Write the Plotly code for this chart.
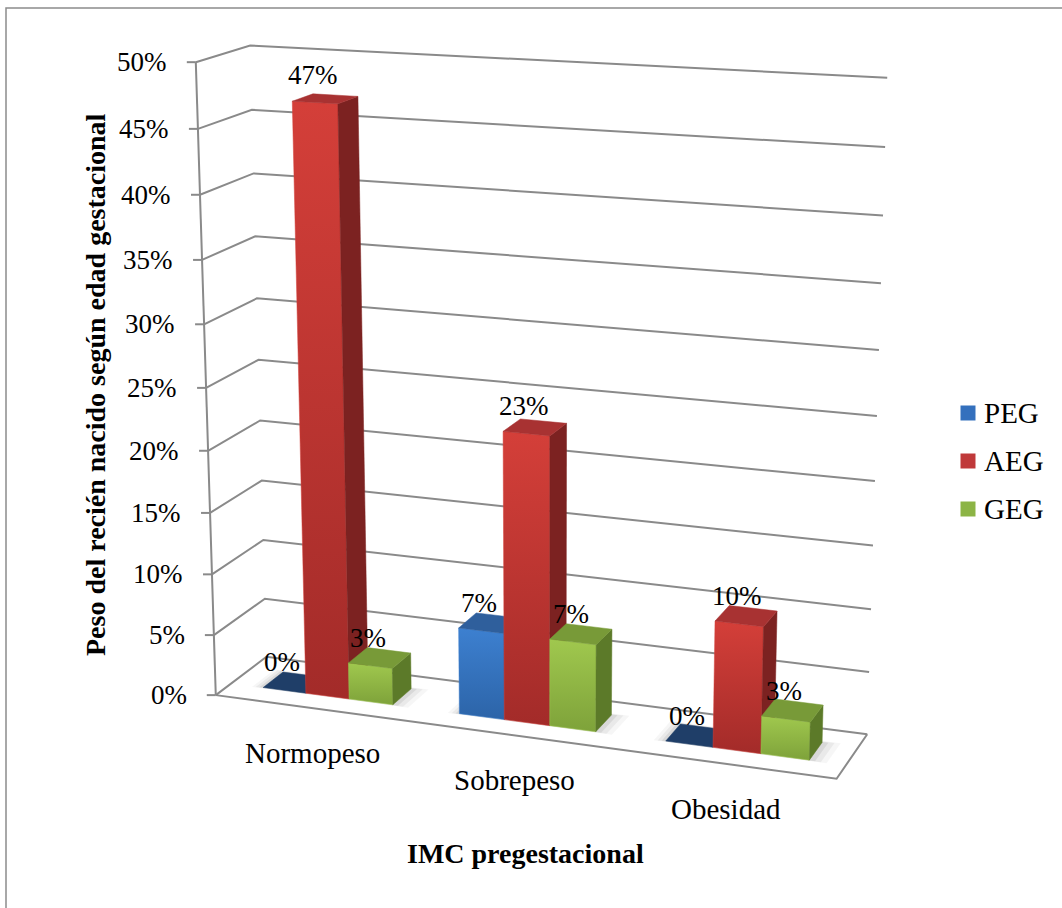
import numpy as np
import plotly.graph_objects as go

# ---- data -----------------------------------------------------------------
categories = ["Normopeso", "Sobrepeso", "Obesidad"]
series_names = ["PEG", "AEG", "GEG"]
peg = [0.00, 0.07, 0.00]
aeg = [0.47, 0.23, 0.10]
geg = [0.03, 0.07, 0.03]
y_ticks = [0.00, 0.05, 0.10, 0.15, 0.20, 0.25, 0.30, 0.35, 0.40, 0.45, 0.50]
y_tick_labels = ["0%", "5%", "10%", "15%", "20%", "25%", "30%", "35%", "40%", "45%", "50%"]
x_title = "IMC pregestacional"
y_title = "Peso del recién nacido según edad gestacional"

# ---- page / style ----------------------------------------------------------
W, H = 1062, 908
V_MAX = 0.50
FONT = "Times New Roman, Liberation Serif, serif"
GRID = "#8a8a8a"

# face colours per series: (front top, front bottom, side, top, flat top)
PALETTE = {
    "PEG": ("#3d80d0", "#2c64a8", "#24508a", "#2f5f9c", "#1f3e68"),
    "AEG": ("#d43f39", "#a32b29", "#7c2221", "#a83232", "#7c2221"),
    "GEG": ("#a0c84e", "#7ea23a", "#5c7a29", "#789a38", "#5c7a29"),
}
LEGEND_SWATCH = {"PEG": "#3470bd", "AEG": "#c0393a", "GEG": "#8cb445"}

# ---- perspective camera ----------------------------------------------------
# plot box: X 0..1 across the categories, value 0..V_MAX, Z 0 (front) .. 1 (back)
box_anchors = [
    ((0, 0.00, 0), (215, 695)), ((0, 0.05, 0), (214, 635)), ((0, 0.10, 0), (213, 575)),
    ((0, 0.35, 0), (201, 260)), ((0, 0.40, 0), (199, 195)), ((0, 0.45, 0), (198, 129)),
    ((0, 0.50, 0), (197, 62)),
    ((0, 0.50, 1), (250, 45)), ((0, 0.45, 1), (252, 110)), ((0, 0.40, 1), (254, 173)),
    ((0, 0.35, 1), (255, 237)), ((0, 0.05, 1), (265, 598)),
    ((1, 0.50, 1), (887, 78)), ((1, 0.45, 1), (885, 147)), ((1, 0.40, 1), (883, 215)),
    ((1, 0.35, 1), (881, 283)), ((1, 0.30, 1), (879, 350)), ((1, 0.25, 1), (877, 416)),
    ((1, 0.20, 1), (875, 481)), ((1, 0.15, 1), (873, 546)), ((1, 0.10, 1), (871, 609)),
    ((1, 0.05, 1), (869, 672)), ((1, 0.00, 1), (867, 735)),
    ((1, 0.00, 0), (837, 778)),
]


def fit_camera(anchors):
    world = np.array([[a[0][0], a[0][1] / V_MAX, a[0][2], 1.0] for a in anchors])
    pix = np.array([a[1] for a in anchors], float)
    mu = pix.mean(axis=0)
    sc = pix.std()
    q = (pix - mu) / sc
    rows = []
    for wv, (u, v) in zip(world, q):
        rows.append(np.concatenate([wv, np.zeros(4), -u * wv]))
        rows.append(np.concatenate([np.zeros(4), wv, -v * wv]))
    _, _, vt = np.linalg.svd(np.array(rows))
    return vt[-1].reshape(3, 4), mu, sc


CAM, CAM_MU, CAM_SC = fit_camera(box_anchors)


def proj(X, val, Z):
    h = CAM @ np.array([X, val / V_MAX, Z, 1.0])
    return CAM_MU + CAM_SC * h[:2] / h[2]


fig = go.Figure()


def polyline(points, color=GRID, width=2):
    pts = np.array([proj(*p) for p in points])
    fig.add_trace(go.Scatter(x=pts[:, 0], y=pts[:, 1], mode="lines",
                             line=dict(color=color, width=width),
                             hoverinfo="skip", showlegend=False))


def face(points, color, grad=None, line=True):
    pts = np.array([proj(*p) for p in points])
    xs = list(pts[:, 0]) + [pts[0, 0]]
    ys = list(pts[:, 1]) + [pts[0, 1]]
    kw = dict(fillcolor=color)
    if grad is not None:
        kw["fillgradient"] = dict(type="vertical",
                                  colorscale=[[0, grad[1]], [1, grad[0]]])
    fig.add_trace(go.Scatter(x=xs, y=ys, mode="lines", fill="toself",
                             line=dict(width=0.5 if line else 0, color=color),
                             hoverinfo="skip", showlegend=False, **kw))


# ---- walls: gridlines on side and back wall, floor outline -----------------
for t in y_ticks:
    polyline([(0, t, 0), (0, t, 1), (1, t, 1)])
polyline([(0, 0, 0), (0, V_MAX, 0)])
polyline([(0, 0, 0), (1, 0, 0), (1, 0, 1)])
for t in y_ticks:
    a = proj(0, t, 0)
    fig.add_trace(go.Scatter(x=[a[0] - 9, a[0]], y=[a[1], a[1]], mode="lines",
                             line=dict(color=GRID, width=2),
                             hoverinfo="skip", showlegend=False))

# ---- bars ------------------------------------------------------------------
values = {"PEG": peg, "AEG": aeg, "GEG": geg}
n_cat = len(categories)
n_ser = len(series_names)
cat_w = 1.0 / n_cat
gap_width = 1.5
bar_w = cat_w / (n_ser + gap_width)
Z0, Z1 = 0.30, 0.70

# soft contact shadows on the floor around each cluster
for i in range(n_cat):
    xc = (i + 0.5) * cat_w
    cx0 = xc - n_ser * bar_w / 2
    cx1 = xc + n_ser * bar_w / 2
    for k, op in enumerate([0.035, 0.05, 0.07]):
        e = 0.006 * (3 - k)
        face([(cx0 - e, 0, Z0 - e), (cx1 + 1.5 * e, 0, Z0 - e),
              (cx1 + 1.5 * e, 0, Z1 + 2 * e), (cx0 - e, 0, Z1 + 2 * e)],
             f"rgba(0,0,0,{op})", line=False)

label_ann = []
for i, cat in enumerate(categories):
    xc = (i + 0.5) * cat_w
    start = xc - n_ser * bar_w / 2
    for j, s in enumerate(series_names):
        v = values[s][i]
        x0, x1 = start + j * bar_w, start + (j + 1) * bar_w
        c_top, c_bot, c_side, c_cap, c_flat = PALETTE[s]
        if v > 0:
            face([(x0, 0, Z0), (x1, 0, Z0), (x1, v, Z0), (x0, v, Z0)], c_top, (c_top, c_bot))
            face([(x1, 0, Z0), (x1, 0, Z1), (x1, v, Z1), (x1, v, Z0)], c_side)
            face([(x0, v, Z0), (x1, v, Z0), (x1, v, Z1), (x0, v, Z1)], c_cap)
        else:
            face([(x0, 0, Z0), (x1, 0, Z0), (x1, 0, Z1), (x0, 0, Z1)], c_flat)
        # value label sits above the centre of the bar's front top edge
        p = proj((x0 + x1) / 2, v, Z0)
        label_ann.append(dict(x=p[0] - 2, y=p[1] - 11, text=f"{round(v * 100)}%",
                              xanchor="center", yanchor="bottom"))

annotations = []
for a in label_ann:
    annotations.append(dict(xref="x", yref="y", showarrow=False,
                            font=dict(family=FONT, size=27, color="#000"), **a))

# value axis tick labels
for t, lab in zip(y_ticks, y_tick_labels):
    a = proj(0, t, 0)
    annotations.append(dict(x=a[0] - 27, y=a[1], xref="x", yref="y", text=lab,
                            showarrow=False, xanchor="right", yanchor="middle",
                            font=dict(family=FONT, size=27, color="#000")))

# category labels below the floor front edge
for i, cat in enumerate(categories):
    a = proj((i + 0.5) * cat_w, 0, 0)
    annotations.append(dict(x=a[0], y=a[1] + 27, xref="x", yref="y", text=cat,
                            showarrow=False, xanchor="center", yanchor="top",
                            font=dict(family=FONT, size=29, color="#000")))

# axis titles
annotations.append(dict(x=525, y=853, xref="x", yref="y", text=f"<b>{x_title}</b>",
                        showarrow=False, xanchor="center", yanchor="middle",
                        font=dict(family=FONT, size=28, color="#000")))
annotations.append(dict(x=95, y=385, xref="x", yref="y", text=f"<b>{y_title}</b>",
                        showarrow=False, xanchor="center", yanchor="middle", textangle=-90,
                        font=dict(family=FONT, size=28, color="#000")))

# legend
for k, s in enumerate(series_names):
    yy = 413 + k * 48
    fig.add_trace(go.Scatter(x=[968], y=[yy], mode="markers",
                             marker=dict(symbol="square", size=15, color=LEGEND_SWATCH[s]),
                             hoverinfo="skip", showlegend=False))
    annotations.append(dict(x=982, y=yy, xref="x", yref="y", text=s, showarrow=False,
                            xanchor="left", yanchor="middle",
                            font=dict(family=FONT, size=29, color="#000")))

fig.update_layout(
    width=W, height=H,
    margin=dict(l=0, r=0, t=0, b=0),
    paper_bgcolor="white", plot_bgcolor="white",
    xaxis=dict(range=[0, W], visible=False, fixedrange=True),
    yaxis=dict(range=[H, 0], visible=False, fixedrange=True),
    annotations=annotations,
    shapes=[dict(type="rect", xref="x", yref="y", x0=6, y0=8, x1=W + 20, y1=H + 20,
                 line=dict(color="#8c8c8c", width=1.5), layer="below")],
    showlegend=False,
)

fig.write_html("out.html")
